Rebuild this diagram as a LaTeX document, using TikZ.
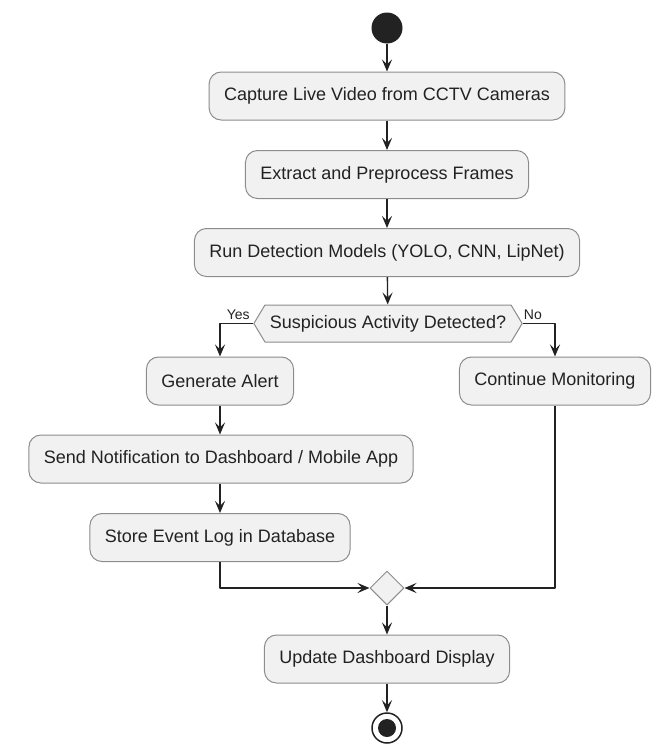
\documentclass[tikz,border=0pt]{standalone}
\usepackage{fontspec}
\setmainfont{Liberation Sans}
\usetikzlibrary{arrows.meta,shapes.geometric,shapes.symbols}

\definecolor{boxfill}{HTML}{F1F1F1}
\definecolor{boxline}{HTML}{8C8C8C}
\definecolor{ink}{HTML}{222222}

\begin{document}
\begin{tikzpicture}[x=1pt, y=-1pt, line join=round,
  every node/.style={font=\fontsize{18}{20}\selectfont, text=ink},
  act/.style={draw=boxline, fill=boxfill, line width=1pt, rounded corners=12pt,
    minimum height=48pt, inner xsep=15pt},
  test/.style={draw=boxline, fill=boxfill, line width=1pt, shape=signal,
    signal to=east and west, signal pointer angle=118, minimum height=37pt, inner xsep=5pt},
  merge/.style={draw=boxline, fill=boxfill, line width=1pt, diamond, aspect=1,
    minimum size=34pt, inner sep=0pt},
  flow/.style={-{Stealth[length=12pt,width=10pt,inset=5pt]}, line width=1.3pt, ink},
  guard/.style={font=\fontsize{14}{16}\selectfont}]

\useasboundingbox (0,0) rectangle (657,744);

% start and activities
\node[circle, fill=ink, minimum size=31pt, inner sep=0pt] (start) at (387,28) {};
\node[act] (capture) at (387,96) {Capture Live Video from CCTV Cameras};
\node[act] (extract) at (387,174.5) {Extract and Preprocess Frames};
\node[act] (detect) at (387,252.5) {Run Detection Models (YOLO, CNN, LipNet)};
\node[test] (suspicious) at (388,323.5) {Suspicious Activity Detected?};

% branches
\node[act] (alert) at (220,381) {Generate Alert};
\node[act] (monitor) at (555,381) {Continue Monitoring};
\node[act] (notify) at (221,459) {Send Notification to Dashboard / Mobile App};
\node[act] (store) at (220,537.5) {Store Event Log in Database};

% join and end
\node[merge] (join) at (387,588) {};
\node[act] (update) at (387,659) {Update Dashboard Display};
\node[circle, draw=ink, line width=1.5pt, minimum size=30pt, inner sep=0pt] (stop) at (387,728) {};
\fill[ink] (stop.center) circle (9pt);

\node[guard, anchor=south east] (yes) at (suspicious.west) {Yes};
\node[guard, anchor=south west, inner xsep=1pt] (no) at (suspicious.east) {No};

\draw[flow] (start) -- (capture);
\draw[flow] (capture) -- (extract);
\draw[flow] (extract) -- (detect);
\draw[flow] (detect) -- (suspicious);
\draw[flow] (suspicious.west) -| (alert.north);
\draw[flow] (suspicious.east) -| (monitor.north);
\draw[flow] (alert) -- (alert |- notify.north);
\draw[flow] (notify.south -| store) -- (store);
\draw[flow] (store.south) |- (join.west);
\draw[flow] (monitor.south) |- (join.east);
\draw[flow] (join) -- (update);
\draw[flow] (update) -- (stop);

\end{tikzpicture}
\end{document}
